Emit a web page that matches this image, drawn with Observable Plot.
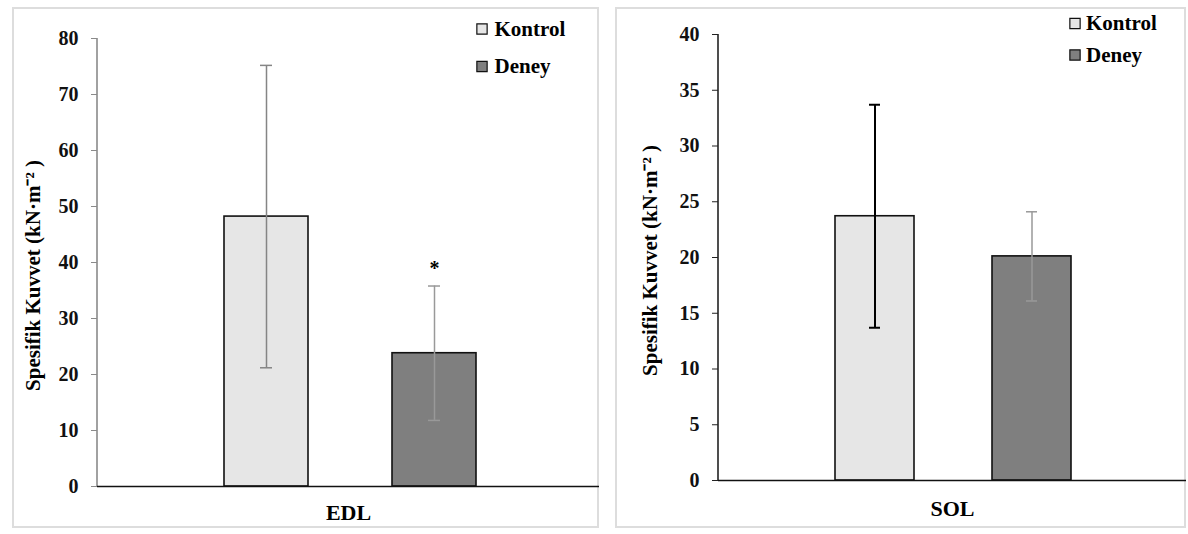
<!DOCTYPE html>
<html><head><meta charset="utf-8">
<script src="https://cdn.jsdelivr.net/npm/d3@7"></script>
<script src="https://cdn.jsdelivr.net/npm/@observablehq/plot@0.6"></script>
<style>
body{margin:0;background:#fff;}
#wrap{position:relative;width:1188px;height:534px;overflow:hidden;background:#fff;}
.panel{position:absolute;box-sizing:border-box;border:2px solid #dddddd;}
.chart{position:absolute;}
.chart svg{overflow:visible;}
</style></head><body><div id="wrap"></div>
<script>
const groups = ["Kontrol", "Deney"];
const groupColors = ["#e6e6e6", "#7f7f7f"];
const muscles = ["EDL", "SOL"];
const edlMean = [48.2, 23.8];
const edlSd = [27.0, 12.0];
const edlMarks = ["", "*"];
const solMean = [23.7, 20.1];
const solSd = [10.0, 4.0];
const solMarks = ["", ""];
const edlTicks = [0, 10, 20, 30, 40, 50, 60, 70, 80];
const solTicks = [0, 5, 10, 15, 20, 25, 30, 35, 40];
const yLabel = "Spesifik Kuvvet (kN·m⁻² )";

const FONT = "'Liberation Serif','Times New Roman',serif";

function makePanel(cfg) {
  const data = groups.map((g, i) => ({group: g, mean: cfg.mean[i], sd: cfg.sd[i], mark: cfg.marks[i]}));
  const lo = d => d.mean - d.sd;
  const hi = d => d.mean + d.sd;
  const yMax = cfg.ticks[cfg.ticks.length - 1];
  const errMarks = [];
  data.forEach((d, i) => {
    const o = {x: "group", stroke: cfg.errColor[i], strokeWidth: cfg.errWidth[i]};
    errMarks.push(Plot.ruleX([d], {...o, y1: lo, y2: hi}));
    errMarks.push(Plot.tickY([d], {...o, y: hi, insetLeft: cfg.capInset, insetRight: cfg.capInset}));
    errMarks.push(Plot.tickY([d], {...o, y: lo, insetLeft: cfg.capInset, insetRight: cfg.capInset}));
  });
  const legendMarks = [];
  groups.forEach((g, i) => {
    legendMarks.push(Plot.dot([g], {frameAnchor: "top-left", dx: cfg.legSq, dy: cfg.legY[i], symbol: "square", r: 5.8, fill: d => d, stroke: "#111", strokeWidth: 1.2}));
    legendMarks.push(Plot.text([g], {frameAnchor: "top-left", dx: cfg.legTx, dy: cfg.legY[i], text: d => d, textAnchor: "start", lineAnchor: "middle", fontSize: 21, fontWeight: "bold"}));
  });
  const axisLine = (index, scales) => {
    const line = document.createElementNS("http://www.w3.org/2000/svg", "line");
    line.setAttribute("x1", cfg.ml); line.setAttribute("x2", cfg.ml);
    line.setAttribute("y1", scales.y(0)); line.setAttribute("y2", scales.y(yMax));
    line.setAttribute("stroke", cfg.axisColor); line.setAttribute("stroke-width", 1.6);
    return line;
  };
  return Plot.plot({
    width: cfg.width, height: cfg.height,
    marginLeft: cfg.ml, marginRight: 0, marginTop: cfg.mt, marginBottom: cfg.mb,
    style: {fontFamily: FONT, fontWeight: "bold", fontSize: "20px", color: "#000", background: "transparent"},
    x: {domain: groups, range: cfg.xRange, paddingInner: 0.5, paddingOuter: 0.5, axis: null},
    y: {domain: [0, yMax], label: null, axis: null},
    color: {domain: groups, range: groupColors},
    marks: [
      Plot.axisY({ticks: cfg.ticks, tickSize: 6, tickPadding: 13, stroke: cfg.axisColor, fill: "#111", label: null, fontSize: 20, fontWeight: "bold"}),
      axisLine,
      Plot.barY(data, {x: "group", y: "mean", fill: "group", stroke: "#111", strokeWidth: 1.6}),
      ...errMarks,
      Plot.text(data, {x: "group", y: hi, text: "mark", dy: -17, fontSize: 20}),
      Plot.ruleY([0], {stroke: "#111", strokeWidth: 1.6}),
      Plot.text([cfg.muscle], {frameAnchor: "bottom", dy: cfg.catDy, lineAnchor: "middle", fontSize: 22, fontWeight: "bold"}),
      Plot.text([yLabel], {frameAnchor: "left", rotate: -90, dx: cfg.labDx, dy: cfg.labDy, textAnchor: "middle", lineAnchor: "middle", fontSize: 21, fontWeight: "bold", letterSpacing: "0.6px"}),
      ...legendMarks
    ]
  });
}

const wrap = document.getElementById("wrap");
function place(left, top, w, h, chart) {
  const p = document.createElement("div");
  p.className = "panel";
  Object.assign(p.style, {left: left + "px", top: top + "px", width: w + "px", height: h + "px"});
  wrap.appendChild(p);
  const c = document.createElement("div");
  c.className = "chart";
  Object.assign(c.style, {left: left + "px", top: top + "px"});
  c.appendChild(chart);
  wrap.appendChild(c);
}

place(12, 7, 587, 521, makePanel({
  muscle: muscles[0], mean: edlMean, sd: edlSd, marks: edlMarks, ticks: edlTicks,
  width: 587, height: 521, ml: 85, mt: 31, mb: 42,
  xRange: [128, 548], capInset: 36, catDy: 26.5,
  errColor: ["#858585", "#999999"], errWidth: [1.5, 1.5], axisColor: "#8a8a8a",
  labDx: -64, labDy: 13,
  legSq: 384.5, legTx: 397, legY: [-9.5, 28]
}));

place(615, 7, 571, 521, makePanel({
  muscle: muscles[1], mean: solMean, sd: solSd, marks: solMarks, ticks: solTicks,
  width: 571, height: 521, ml: 103, mt: 27, mb: 48,
  xRange: [141.5, 534], capInset: 34, catDy: 28,
  errColor: ["#000", "#999999"], errWidth: [2, 1.5], axisColor: "#222",
  labDx: -68, labDy: 3,
  legSq: 356.5, legTx: 367.5, legY: [-11, 20.5]
}));
</script>
</body></html>
